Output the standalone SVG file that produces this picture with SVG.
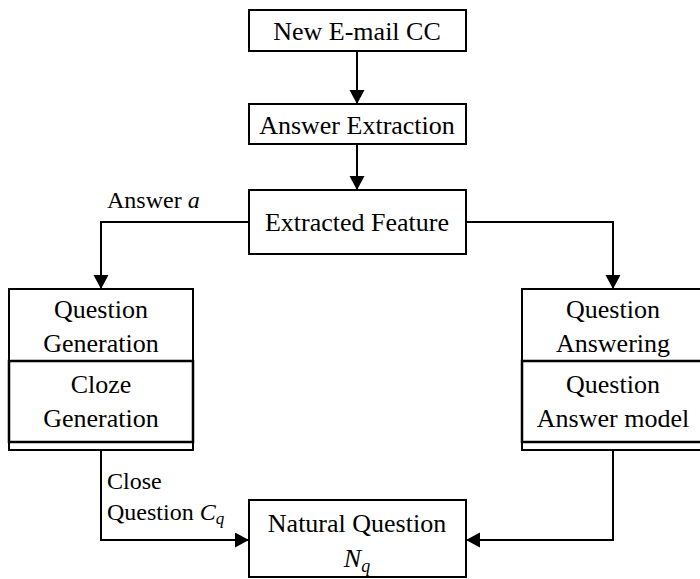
<svg xmlns="http://www.w3.org/2000/svg" width="700" height="579" viewBox="0 0 700 579">
<style>
  .box { fill: #fff; stroke: #000; stroke-width: 2; }
  .inner { fill: none; stroke: #000; stroke-width: 2.5; }
  .t { font-size: 26px; fill: #000; text-anchor: middle; }
  .lbl { font-size: 24px; fill: #000; }
  .it { font-style: italic; }
  .conn { fill: none; stroke: #000; stroke-width: 2; marker-end: url(#arr); }
</style>
<defs>
  <marker id="arr" markerUnits="userSpaceOnUse" markerWidth="16" markerHeight="16" refX="14" refY="7.5" orient="auto">
    <path d="M0,0 L14,7.5 L0,15 z" fill="#000"/>
  </marker>
</defs>
<rect width="700" height="579" fill="#fff"/>
<g id="connectors">
  <path class="conn" d="M357,51 L357,104"/>
  <path class="conn" d="M357,144 L357,190"/>
  <path class="conn" d="M249,222 L101,222 L101,289"/>
  <path class="conn" d="M466,222 L613,222 L613,289"/>
  <path class="conn" d="M101,450 L101,540 L249,540"/>
  <path class="conn" d="M613,450 L613,540 L466,540"/>
</g>
<g font-family="Liberation Serif, Times New Roman, serif">
<g id="new-email">
  <rect class="box" x="249" y="10" width="217" height="41"/>
  <text class="t" x="357" y="40">New E-mail CC</text>
</g>
<g id="answer-extraction">
  <rect class="box" x="249" y="104" width="217" height="40"/>
  <text class="t" x="357" y="134">Answer Extraction</text>
</g>
<g id="extracted-feature">
  <rect class="box" x="249" y="190" width="217" height="64"/>
  <text class="t" x="357" y="231">Extracted Feature</text>
</g>
<g id="question-generation">
  <rect class="box" x="9" y="289" width="184" height="161"/>
  <rect class="inner" x="9" y="361" width="184" height="81"/>
  <text class="t" x="101" y="318">Question</text>
  <text class="t" x="101" y="352">Generation</text>
  <text class="t" x="101" y="393">Cloze</text>
  <text class="t" x="101" y="427">Generation</text>
</g>
<g id="question-answering">
  <rect class="box" x="522" y="289" width="184" height="161"/>
  <rect class="inner" x="522" y="361" width="184" height="81"/>
  <text class="t" x="613" y="318">Question</text>
  <text class="t" x="613" y="352">Answering</text>
  <text class="t" x="613" y="393">Question</text>
  <text class="t" x="613" y="427">Answer model</text>
</g>
<g id="natural-question">
  <rect class="box" x="249" y="500" width="217" height="77"/>
  <text class="t" x="357" y="532">Natural Question</text>
  <text class="t" x="357" y="567"><tspan class="it">N</tspan><tspan class="it" font-size="18" dy="5">q</tspan></text>
</g>
<g id="labels">
  <text class="lbl" x="107" y="208">Answer <tspan class="it">a</tspan></text>
  <text class="lbl" x="107" y="489">Close</text>
  <text class="lbl" x="107" y="520">Question <tspan class="it">C</tspan><tspan class="it" font-size="17" dy="4">q</tspan></text>
</g>
</g>
</svg>
